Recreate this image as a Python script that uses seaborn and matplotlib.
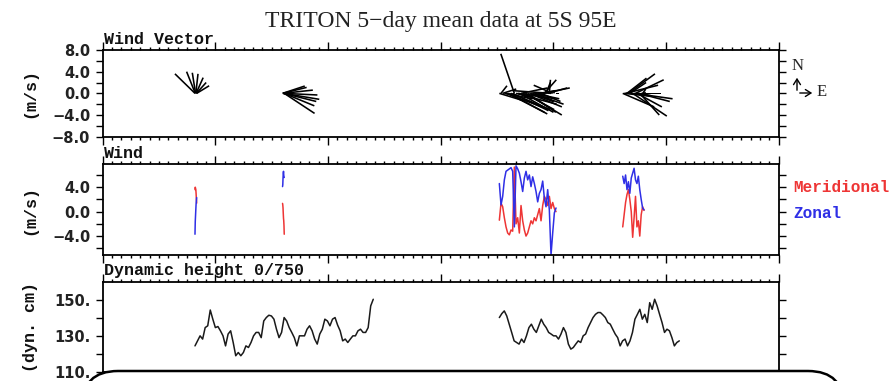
import numpy as np
import pandas as pd
import matplotlib
matplotlib.use("Agg")
import matplotlib.pyplot as plt
import seaborn as sns
from matplotlib.patches import FancyBboxPatch, FancyArrowPatch
from matplotlib.ticker import MultipleLocator, FixedLocator, FuncFormatter
from matplotlib.transforms import IdentityTransform

# ---------------- data ----------------
x_range = (2001.0, 2007.0)

# wind segments (start / end time in decimal years)
wind_seg_start = [2001.819, 2002.596, 2004.520, 2005.615]
wind_seg_end = [2001.834, 2002.611, 2005.023, 2005.804]

zonal_1 = [-3.7, -1.6, -0.6, 0.4, 1.3, 1.8, 2.3]
merid_1 = [3.6, 4.0, 3.8, 3.6, 2.9, 2.0, 1.4]

zonal_2 = [4.1, 4.4, 5.5, 6.3, 6.6, 6.0, 5.6, 5.6]
merid_2 = [1.35, 1.1, 0.6, -0.3, -1.1, -1.5, -2.3, -3.7]

zonal_3 = [4.6, 1.1, 2.5, 5.2, 6.6, 6.8, 7.0, 7.2, 6.6, -2.5, 7.5, 7.0, 6.3, 4.9,
           3.3, 5.5, 6.6, 5.2, 6.0, 4.1, 5.7, 4.6, 3.3, 1.6, 3.0, 3.6, 5.0, 2.2,
           0.8, 3.6, 0.2, -7.1, -3.5, -0.2, 0.6]
merid_3 = [-1.4, 1.4, 0.8, -1.0, -2.5, -3.5, -3.8, -3.0, -3.2, 7.3, -2.0, -1.0,
           -3.5, 1.0, -1.5, -3.0, -4.0, -3.5, -2.5, -1.5, -2.0, -1.0, -1.5, -0.5,
           0.5, -1.5, 1.0, 2.5, 2.0, 1.0, 2.5, 0.5, 1.5, 0.5, 0.0]

zonal_4 = [5.8, 4.6, 6.0, 3.6, 4.9, 3.0, 5.5, 6.3, 7.1, 5.2, 4.6, 5.8, 3.6, 2.0, 0.6, 0.3]
merid_4 = [-2.5, -0.5, 1.5, 2.8, 3.6, 2.0, 0.0, -4.2, -1.0, 2.5, -2.5, -1.5, -4.0, -0.5, 0.8, 0.2]

# dynamic height segments
dyn_seg_start = [2001.819, 2004.520]
dyn_seg_end = [2003.401, 2006.117]
dyn_a = [124.4, 127.2, 130, 128.2, 134.6, 135.6, 144.4, 139.3, 134.6, 135.2,
         132.8, 130, 124.4, 131, 132.8, 126.3, 118.9, 120.7, 118.9, 120.7,
         124.4, 123.5, 126.3, 130, 131.9, 131.9, 129, 138.3, 140.2, 141.5,
         141.1, 139.3, 133.7, 129, 131.9, 140.2, 138.3, 134.6, 131.9, 129,
         124.4, 130, 130, 130, 133.7, 135.6, 132.8, 128.2, 125.4, 131,
         133.7, 139.3, 138.3, 135.6, 139.3, 140.2, 136, 132.8, 127.2, 128.2,
         126.3, 128.2, 130, 130, 132.8, 133.7, 131.9, 131.9, 134.6, 146.7, 150.4]
dyn_b = [140.2, 142.4, 143.9, 141.1, 136.5, 131.9, 127.2, 126.3, 125.4, 128.2,
         126.3, 130, 134.6, 136.5, 133.7, 131.9, 135.6, 139.3, 136.5, 134.6,
         131.9, 131, 130, 130, 128.2, 131, 134.6, 131.9, 125.4, 122.6,
         123.5, 125.4, 127.2, 126.3, 130, 131, 134.6, 137.4, 140.2, 142,
         143, 143, 141.7, 140.2, 137.4, 136.5, 133.7, 131, 129, 124.4,
         127.2, 128.2, 124.4, 127.2, 131.9, 139.3, 142, 144.8, 139.3, 142,
         137.4, 148.5, 144.8, 150.4, 146.7, 142, 137.4, 131.9, 133.7, 132.8,
         129, 124.4, 126.3, 127.2]

# ---------------- frames ----------------
zonal_all = [zonal_1, zonal_2, zonal_3, zonal_4]
merid_all = [merid_1, merid_2, merid_3, merid_4]
rows = []
for i, (z, m) in enumerate(zip(zonal_all, merid_all)):
    t = np.linspace(wind_seg_start[i], wind_seg_end[i], len(z))
    for tt, zz, mm in zip(t, z, m):
        rows.append(dict(time=tt, zonal=zz, meridional=mm, segment=i))
wind = pd.DataFrame(rows)
wind_long = pd.concat([
    pd.DataFrame(dict(time=wind.time, speed=wind.meridional, component="Meridional", segment=wind.segment)),
    pd.DataFrame(dict(time=wind.time, speed=wind.zonal, component="Zonal", segment=wind.segment)),
], ignore_index=True)

drows = []
for i, vals in enumerate([dyn_a, dyn_b]):
    t = np.linspace(dyn_seg_start[i], dyn_seg_end[i], len(vals))
    for tt, vv in zip(t, vals):
        drows.append(dict(time=tt, height=vv, segment=i))
dyn = pd.DataFrame(drows)

# ---------------- figure ----------------
sns.set_style("ticks")
plt.rcParams["font.family"] = ["DejaVu Sans"]
plt.rcParams["axes.unicode_minus"] = True

W, H = 894, 381
fig = plt.figure(figsize=(W / 100, H / 100), dpi=100)

left = 102.7 / W
width = (778.8 - 102.7) / W
def ax_rect(top_px, bot_px):
    return [left, 1 - bot_px / H, width, (bot_px - top_px) / H]

ax1 = fig.add_axes(ax_rect(50.0, 136.7))
ax2 = fig.add_axes(ax_rect(164.0, 255.0))
ax3 = fig.add_axes(ax_rect(281.7, 371.7))

RED = "#ee3535"
BLUE = "#2f2fe6"

# panel 1: wind sticks
ax1.quiver(wind.time, np.zeros(len(wind)), wind.zonal, wind.meridional,
           angles="uv", scale_units="y", scale=1, units="dots", width=1.6,
           headwidth=0, headlength=0, headaxislength=0, pivot="tail",
           color="black", zorder=3)
ax1.set_ylim(-8, 8)

# panel 2: wind components
sns.lineplot(data=wind_long, x="time", y="speed", hue="component",
             hue_order=["Meridional", "Zonal"], palette={"Meridional": RED, "Zonal": BLUE},
             units="segment", estimator=None, sort=False, legend=False,
             linewidth=1.1, ax=ax2)
ax2.set_ylim(-7.1, 7.8)

# panel 3: dynamic height
sns.lineplot(data=dyn, x="time", y="height", units="segment", estimator=None,
             sort=False, color="#1a1a1a", linewidth=1.1, ax=ax3)
ax3.set_ylim(110, 160.2)

ymaj = {ax1: [8, 4, 0, -4, -8], ax2: [4, 0, -4], ax3: [150, 130, 110]}
ymin = {ax1: [6, 2, -2, -6], ax2: [6, 2, -2, -6], ax3: [140, 120]}
fmt = {ax1: "{:.1f}", ax2: "{:.1f}", ax3: "{:.0f}."}

for ax in (ax1, ax2, ax3):
    ax.set_xlim(*x_range)
    ax.set_xlabel("")
    ax.set_ylabel("")
    ax.xaxis.set_major_locator(MultipleLocator(1))
    ax.xaxis.set_minor_locator(MultipleLocator(1 / 12))
    ax.yaxis.set_major_locator(FixedLocator(ymaj[ax]))
    ax.yaxis.set_minor_locator(FixedLocator(ymin[ax]))
    f = fmt[ax]
    ax.yaxis.set_major_formatter(FuncFormatter(lambda v, p, f=f: f.format(v).replace("-", "\u2212")))
    ax.tick_params(axis="x", which="both", top=True, bottom=True,
                   labelbottom=False, labeltop=False, direction="out", width=1.0, color="black")
    ax.tick_params(axis="x", which="major", length=5.5)
    ax.tick_params(axis="x", which="minor", length=2.5)
    ax.tick_params(axis="y", which="both", left=True, right=True, labelright=False,
                   direction="out", length=5, width=1.0, pad=4, color="black")
    for lab in ax.get_yticklabels():
        lab.set_fontfamily("DejaVu Sans")
        lab.set_fontweight("bold")
        lab.set_fontsize(10.5)
        lab.set_color("#222222")
    for sp in ax.spines.values():
        sp.set_visible(True)
        sp.set_linewidth(1.3)
        sp.set_color("black")
    ax.set_facecolor("white")

# panel titles
mono = ["Liberation Mono", "DejaVu Sans Mono"]
for ax, txt in [(ax1, "Wind Vector"), (ax2, "Wind"), (ax3, "Dynamic height 0/750")]:
    ax.annotate(txt, xy=(0, 1), xycoords="axes fraction", xytext=(1, 4.5),
                textcoords="offset points", ha="left", va="baseline",
                fontsize=12, fontweight="bold", family=mono, color="#111111")

# y labels
for ax, txt in [(ax1, "(m/s)"), (ax2, "(m/s)"), (ax3, "(dyn. cm)")]:
    pos = ax.get_position()
    fig.text(30 / W, pos.y0 + pos.height / 2, txt, rotation=90, ha="center",
             va="center", fontsize=12, fontweight="bold", family=mono, color="#111111")

# title
fig.text((102.7 + 778.8) / 2 / W, 1 - 26.5 / H, "TRITON 5\u2212day mean data at 5S 95E",
         ha="center", va="baseline", fontsize=17, family=["Liberation Serif", "DejaVu Serif"],
         color="#222222")

# legend text for wind components
fig.text(793 / W, 1 - 187 / H, "Meridional", ha="left", va="center", fontsize=11.5,
         fontweight="bold", family=mono, color=RED)
fig.text(793 / W, 1 - 214 / H, "Zonal", ha="left", va="center", fontsize=11.5,
         fontweight="bold", family=mono, color=BLUE)

# compass
serif = ["Liberation Serif", "DejaVu Serif"]
ox, oy = 797 / W, 1 - 93 / H
fig.add_artist(FancyArrowPatch((ox, oy), (ox, 1 - 75 / H), transform=fig.transFigure,
                               arrowstyle="->,head_length=4,head_width=2.5", lw=1.0, color="black"))
fig.add_artist(FancyArrowPatch((ox, oy), (815 / W, oy), transform=fig.transFigure,
                               arrowstyle="->,head_length=4,head_width=2.5", lw=1.0, color="black"))
fig.text(798 / W, 1 - 66 / H, "N", ha="center", va="center", fontsize=12, family=serif)
fig.text(817 / W, 1 - 92.5 / H, "E", ha="left", va="center", fontsize=12, family=serif)

# overlay rounded box at the bottom
box = FancyBboxPatch((82, -70), 762, 80, boxstyle="round,pad=0,rounding_size=36",
                     transform=IdentityTransform(), facecolor="white", edgecolor="black",
                     linewidth=1.8, zorder=10)
fig.add_artist(box)

fig.savefig("out.png", dpi=100)
